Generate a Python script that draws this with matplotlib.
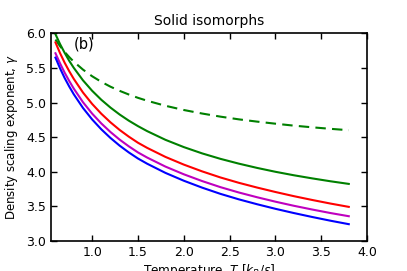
import numpy as np
import matplotlib
matplotlib.use("Agg")
from matplotlib import pyplot as plt

# temperatures along the isomorphs
T = [0.6, 0.65, 0.7, 0.75, 0.8, 0.9, 1.0, 1.1, 1.2, 1.3, 1.4, 1.5, 1.6, 1.8, 2.0, 2.2, 2.4, 2.6, 2.8, 3.0, 3.2, 3.4, 3.6, 3.8]

gamma_green = [5.988, 5.845, 5.719, 5.603, 5.501, 5.321, 5.170, 5.040, 4.927, 4.827, 4.738, 4.659, 4.587,
               4.461, 4.356, 4.265, 4.186, 4.117, 4.055, 3.999, 3.949, 3.904, 3.862, 3.824]
gamma_red = [5.869, 5.714, 5.576, 5.453, 5.341, 5.145, 4.980, 4.838, 4.714, 4.604, 4.507, 4.419, 4.345,
             4.214, 4.103, 4.005, 3.917, 3.840, 3.771, 3.707, 3.647, 3.592, 3.540, 3.492]
gamma_magenta = [5.712, 5.566, 5.432, 5.312, 5.201, 5.005, 4.840, 4.698, 4.574, 4.464, 4.367, 4.279, 4.205,
                 4.074, 3.963, 3.865, 3.777, 3.700, 3.631, 3.567, 3.508, 3.454, 3.403, 3.357]
gamma_blue = [5.649, 5.494, 5.355, 5.232, 5.119, 4.922, 4.756, 4.613, 4.488, 4.377, 4.279, 4.191, 4.116,
              3.983, 3.870, 3.770, 3.680, 3.601, 3.530, 3.464, 3.403, 3.346, 3.292, 3.242]
gamma_dashed = [5.910, 5.814, 5.731, 5.657, 5.590, 5.476, 5.380, 5.299, 5.229, 5.169, 5.116, 5.068, 5.026,
                4.953, 4.892, 4.841, 4.796, 4.757, 4.724, 4.694, 4.666, 4.642, 4.620, 4.600]

xticks = [1.0, 1.5, 2.0, 2.5, 3.0, 3.5, 4.0]
yticks = [3.0, 3.5, 4.0, 4.5, 5.0, 5.5, 6.0]

fig = plt.figure(figsize=(4.07, 2.71), dpi=100)
ax = fig.add_axes([0.125, 0.111, 0.777, 0.766])

ax.plot(T, gamma_dashed, color="green", ls="--", lw=1.5, dashes=(5, 3))
ax.plot(T, gamma_green, color="green", lw=1.5)
ax.plot(T, gamma_red, color="red", lw=1.5)
ax.plot(T, gamma_magenta, color="m", lw=1.5)
ax.plot(T, gamma_blue, color="blue", lw=1.5)

ax.set_xlim(0.55, 4.0)
ax.set_ylim(3.0, 6.0)
ax.set_xticks(xticks)
ax.set_yticks(yticks)
ax.set_xticklabels(["%.1f" % t for t in xticks])
ax.set_yticklabels(["%.1f" % t for t in yticks])
ax.tick_params(direction="in", top=True, right=True, length=4, width=1, labelsize=9)
for s in ax.spines.values():
    s.set_linewidth(1.2)

ax.text(0.8, 5.78, "(b)", fontsize=10.5)
ax.set_title("Solid isomorphs", fontsize=10, pad=6)
ax.set_ylabel(r"Density scaling exponent, $\gamma$", fontsize=8.5)
ax.set_xlabel(r"Temperature, $T$ [$k_B/\varepsilon$]", fontsize=8.7, labelpad=2)

fig.savefig("out.png", dpi=100)
